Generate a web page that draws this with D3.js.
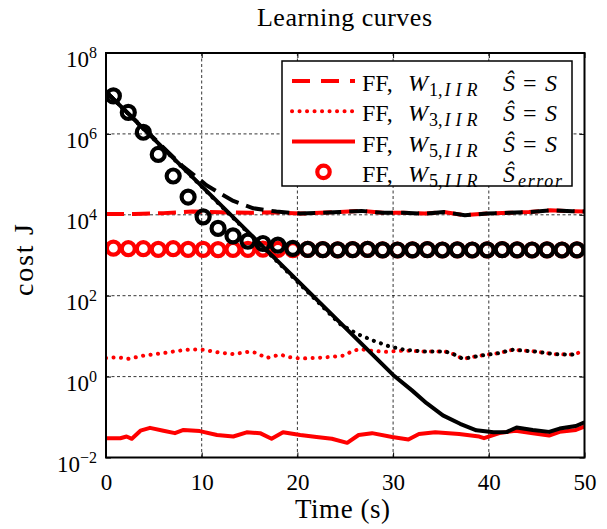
<!DOCTYPE html>
<meta charset="utf-8">
<style>
body{ margin:0; background:#fff; }
text{ font-family:"Liberation Serif", serif; fill:#000; }
.grid line{ stroke:#000; stroke-width:0.8; stroke-dasharray:3,2.5; }
.axis path, .axis line{ stroke:#000; }
</style>
<body>
<script src="https://cdnjs.cloudflare.com/ajax/libs/d3/7.8.5/d3.min.js"></script>
<script>

var width = 607,
    height = 529;

// x ticks and y decades
var xTicks = [0, 10, 20, 30, 40, 50];
var yExps = [-2, 0, 2, 4, 6, 8];

// red curves (the ones in the legend), [time, cost]
var redDashed = [[0,1.05e4],[3,1.05e4],[6,1.1e4],[9,1.2e4],[12,1.15e4],[15,1.12e4],[18,1.15e4],[20.3,1.07e4],
    [24.4,1.17e4],[26.7,1.25e4],[28.9,1.12e4],[31.1,1.12e4],[33.3,1.07e4],[35.3,1.17e4],[37.5,0.98e4],
    [39.8,1.07e4],[42.1,1.12e4],[44.2,1.17e4],[46.4,1.29e4],[48.7,1.22e4],[50,1.2e4]];
var redDotted = [[0,2.9],[1.2,3.0],[2.3,2.75],[3.9,3.3],[6,3.8],[7.4,4.3],[8.95,4.7],[10.2,4.6],[11.9,3.9],
    [13.3,3.6],[14.9,4.1],[15.6,3.9],[16.8,2.9],[18.2,3.5],[19.2,3.0],[20.3,2.8],[22,2.9],[23.75,3.1],
    [24.8,3.3],[25.7,4.2],[26.5,4.8],[27.9,4.3],[29.3,4.1],[31.2,4.4],[33.1,4.2],[35.4,4.2],[36.3,3.6],
    [37.3,2.75],[39.1,3.3],[41,3.8],[42.5,4.6],[44.7,4.2],[46.8,3.6],[48.7,3.5],[49.4,3.9]];
var redSolid = [[0,0.030],[1.5,0.030],[2.15,0.033],[2.7,0.029],[3.6,0.046],[4.6,0.054],[6,0.046],[7.2,0.040],
    [8.1,0.048],[9.8,0.045],[11.6,0.036],[13.3,0.033],[14.7,0.042],[16.1,0.040],[17.3,0.029],[18.5,0.042],
    [20.3,0.036],[22,0.032],[23.6,0.029],[25.2,0.023],[26.4,0.036],[27.8,0.040],[29.9,0.032],[31.6,0.028],
    [32.7,0.038],[34.4,0.042],[36.9,0.038],[39,0.033],[39.5,0.030],[41.1,0.040],[42.8,0.046],[44.6,0.040],
    [46.3,0.035],[47.4,0.043],[49.1,0.048],[50,0.058]];

// black curves (not in the legend)
var blackDashed = [[0,1.1e7],[8,1.6e5],[9.5,8.5e4],[10.5,5.4e4],[12,3.3e4],[13.3,2.2e4],[15.4,1.45e4],
    [17.8,1.2e4],[20.3,1.07e4],[24.4,1.17e4],[26.7,1.25e4],[28.9,1.12e4],[31.1,1.12e4],[33.3,1.07e4],
    [35.3,1.17e4],[37.5,0.98e4],[39.8,1.07e4],[42.1,1.12e4],[44.2,1.17e4],[46.4,1.29e4],[48.7,1.22e4],[50,1.2e4]];
var blackDotted = [[0,1.1e7],[24.45,20],[26.2,11.5],[27.9,7.8],[29.67,5.5],[31.2,4.6],[33.1,4.2],[35.4,4.2],
    [36.3,3.6],[37.3,2.75],[39.1,3.3],[41,3.8],[42.5,4.6],[44.7,4.2],[46.8,3.6],[48.7,3.5],[49.4,3.9]];
var blackSolid = [[0,1.1e7],[30,1.1],[32,0.45],[33.5,0.22],[35.2,0.11],[37,0.068],[38.7,0.047],[40.5,0.042],
    [41.9,0.043],[42.9,0.055],[44.6,0.048],[46.3,0.043],[47.4,0.052],[49.1,0.060],[50,0.074]];

// circle markers, one every 1.5625 s starting at 0.77 s
var circleTimes = [0.77,2.33,3.9,5.46,7.02,8.58,10.15,11.71,13.27,14.83,16.4,17.96,19.52,21.08,22.65,24.21,
    25.77,27.33,28.9,30.46,32.02,33.58,35.15,36.71,38.27,39.83,41.4,42.96,44.52,46.08,47.65,49.21];
var redCircles = [1.5e3,1.45e3,1.45e3,1.4e3,1.45e3,1.4e3,1.4e3,1.38e3,1.4e3,1.4e3,1.42e3,1.4e3,1.38e3,1.4e3,
    1.38e3,1.36e3,1.38e3,1.4e3,1.36e3,1.35e3,1.36e3,1.38e3,1.35e3,1.36e3,1.35e3,1.36e3,1.38e3,1.36e3,
    1.35e3,1.36e3,1.35e3,1.36e3];
var blackCircles = [8.7e6,3.4e6,1.1e6,3.1e5,9.1e4,2.75e4,8.9e3,4.6e3,3.0e3,2.24e3,1.95e3,1.78e3,1.48e3,1.4e3,
    1.38e3,1.36e3,1.38e3,1.4e3,1.36e3,1.35e3,1.36e3,1.38e3,1.35e3,1.36e3,1.35e3,1.36e3,1.38e3,1.36e3,
    1.35e3,1.36e3,1.35e3,1.36e3];

var legendSubs = ["1,", "3,", "5,", "5,"];
var legendEnds = ["S", "S", "S", "error"];

var pLeft = 106, pRight = 584.5, pTop = 53, pBottom = 457.5;

var x = d3.scaleLinear().domain([0, 50]).range([pLeft, pRight]);
var y = d3.scaleLog().domain([1e-2, 1e8]).range([pBottom, pTop]);

var svg = d3.select("body").append("svg")
    .attr("width", width)
    .attr("height", height);

svg.append("clipPath").attr("id", "clip")
    .append("rect")
    .attr("x", pLeft).attr("y", pTop)
    .attr("width", pRight - pLeft).attr("height", pBottom - pTop);

// grid
var grid = svg.append("g").attr("class", "grid");
grid.selectAll(".gx").data(xTicks.slice(1, -1)).enter().append("line")
    .attr("x1", d => x(d)).attr("x2", d => x(d))
    .attr("y1", pTop).attr("y2", pBottom);
grid.selectAll(".gy").data(yExps.slice(1, -1)).enter().append("line")
    .attr("x1", pLeft).attr("x2", pRight)
    .attr("y1", d => y(Math.pow(10, d))).attr("y2", d => y(Math.pow(10, d)));

// axes with inward ticks on all four sides
var yTickVals = yExps.map(e => Math.pow(10, e));
svg.append("g").attr("class", "axis").attr("transform", "translate(0," + pBottom + ")")
    .call(d3.axisBottom(x).tickValues(xTicks).tickSize(-5).tickSizeOuter(0).tickPadding(16))
    .call(g => g.select(".domain").remove())
    .selectAll("text").attr("font-size", 23).attr("font-family", "Liberation Serif").attr("fill", "#000");
svg.append("g").attr("class", "axis").attr("transform", "translate(0," + pTop + ")")
    .call(d3.axisTop(x).tickValues(xTicks).tickSize(-5).tickSizeOuter(0).tickFormat(""))
    .call(g => g.select(".domain").remove());
svg.append("g").attr("class", "axis").attr("transform", "translate(" + pLeft + ",0)")
    .call(d3.axisLeft(y).tickValues(yTickVals).tickSize(-5).tickSizeOuter(0).tickFormat(""))
    .call(g => g.select(".domain").remove());
svg.append("g").attr("class", "axis").attr("transform", "translate(" + pRight + ",0)")
    .call(d3.axisRight(y).tickValues(yTickVals).tickSize(-5).tickSizeOuter(0).tickFormat(""))
    .call(g => g.select(".domain").remove());

var yLab = svg.append("g").selectAll("text").data(yExps).enter().append("text")
    .attr("x", 97)
    .attr("y", d => y(Math.pow(10, d)) + 14)
    .attr("text-anchor", "end")
    .attr("font-size", 23);
yLab.append("tspan").text("10");
yLab.append("tspan").attr("dy", -9).attr("font-size", 16)
    .text(d => d < 0 ? "\u2212" + (-d) : d);

// data
var line = d3.line().x(d => x(d[0])).y(d => y(d[1]));
var plot = svg.append("g").attr("clip-path", "url(#clip)");

function drawLine(data, color, dash, cap) {
    plot.append("path")
        .datum(data)
        .attr("d", line)
        .attr("fill", "none")
        .attr("stroke", color)
        .attr("stroke-width", 4)
        .attr("stroke-linejoin", "round")
        .attr("stroke-linecap", cap)
        .attr("stroke-dasharray", dash);
}
function drawCircles(vals, color) {
    plot.append("g").selectAll("circle")
        .data(vals).enter().append("circle")
        .attr("cx", (d, i) => x(circleTimes[i]))
        .attr("cy", d => y(d))
        .attr("r", 6.5)
        .attr("fill", "none")
        .attr("stroke", color)
        .attr("stroke-width", 4.2);
}

drawLine(redDashed, "#ff0000", "18,8", "butt");
drawLine(redDotted, "#ff0000", "0.1,7.4", "round");
drawLine(redSolid, "#ff0000", null, "butt");
drawCircles(redCircles, "#ff0000");
drawLine(blackDashed, "#000", "18,8", "butt");
drawLine(blackDotted, "#000", "0.1,7.4", "round");
drawLine(blackSolid, "#000", null, "butt");
drawCircles(blackCircles, "#000");

// frame
svg.append("rect")
    .attr("x", pLeft).attr("y", pTop)
    .attr("width", pRight - pLeft).attr("height", pBottom - pTop)
    .attr("fill", "none").attr("stroke", "#000").attr("stroke-width", 2);

// legend
var legend = svg.append("g");
legend.append("rect")
    .attr("x", 282).attr("y", 61)
    .attr("width", 290).attr("height", 125)
    .attr("fill", "#fff").attr("stroke", "#000").attr("stroke-width", 1.5);

var styles = [["18,11", "butt"], ["0.1,7.4", "round"], [null, "butt"]];
var rows = legend.selectAll(".row").data(legendSubs).enter().append("g")
    .attr("transform", (d, i) => "translate(0," + (81 + i * 30.3) + ")");
rows.filter((d, i) => i < 3).append("line")
    .attr("x1", 292).attr("x2", 355)
    .attr("stroke", "#ff0000").attr("stroke-width", 4)
    .attr("stroke-dasharray", (d, i) => styles[i][0])
    .attr("stroke-linecap", (d, i) => styles[i][1]);
rows.filter((d, i) => i === 3).append("circle")
    .attr("cx", 323.5).attr("cy", 0).attr("r", 6.2)
    .attr("fill", "none").attr("stroke", "#ff0000").attr("stroke-width", 4.2);

var lt = rows.append("text").attr("y", 10).attr("font-size", 24);
lt.append("tspan").attr("x", 362).text("FF,");
lt.append("tspan").attr("x", 408).attr("font-style", "italic").text("W");
lt.append("tspan").attr("x", 429).attr("dy", 5).attr("font-size", 18).text(d => d);
lt.append("tspan").attr("font-size", 18).attr("font-style", "italic")
    .attr("dx", 2).attr("textLength", 33).text("IIR");
lt.append("tspan").attr("x", 503).attr("dy", -5).attr("font-style", "italic").text("\u015C");
lt.each(function(d, i) {
    var t = d3.select(this);
    if (legendEnds[i] === "S") {
        t.append("tspan").attr("x", 523).text("=");
        t.append("tspan").attr("x", 545).attr("font-style", "italic").text("S");
    } else {
        t.append("tspan").attr("x", 518).attr("dy", 5).attr("font-size", 18)
            .attr("font-style", "italic").attr("textLength", 44).text("error");
    }
});

// titles
svg.append("text")
    .attr("x", 344.5).attr("y", 26)
    .attr("text-anchor", "middle")
    .attr("font-size", 26)
    .attr("textLength", 175)
    .text("Learning curves");
svg.append("text")
    .attr("x", 342.5).attr("y", 518)
    .attr("text-anchor", "middle")
    .attr("font-size", 27)
    .attr("textLength", 95)
    .text("Time (s)");
svg.append("text")
    .attr("transform", "translate(33,260) rotate(-90)")
    .attr("text-anchor", "middle")
    .attr("font-size", 28)
    .attr("textLength", 72)
    .text("cost J");

</script>
